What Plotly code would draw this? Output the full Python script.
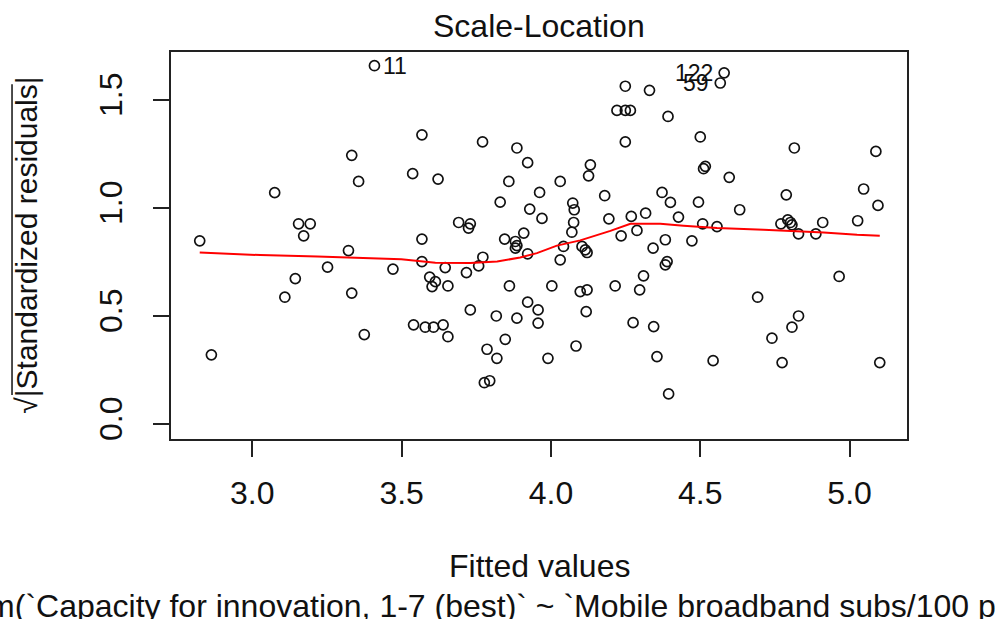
import plotly.graph_objects as go

# Fitted values (x) and sqrt(|standardized residuals|) (y)
fitted = [
    3.409, 3.333, 3.356, 3.537, 3.075, 3.155, 3.194, 3.172, 2.824, 3.322,
    3.252, 3.471, 3.144, 3.109, 3.333, 3.540, 3.375, 2.863,
    3.568, 3.622, 3.771, 3.886, 3.922, 3.859, 4.031, 4.132, 4.126, 4.249,
    4.330, 4.221, 4.249, 4.266, 4.249, 3.962, 3.830, 4.180, 4.372, 3.929,
    3.970, 4.073, 4.078, 4.076, 4.070, 4.194, 4.269, 4.317, 4.288, 4.235,
    3.691, 3.730, 3.724, 3.568, 3.845, 3.909, 3.881, 3.886, 3.881, 3.922,
    4.042, 4.031, 4.104, 4.115, 4.121, 4.342, 3.568, 3.646, 3.717, 3.758,
    3.772, 3.594, 3.613, 3.602, 3.655, 3.861, 4.003, 4.098, 4.121, 4.215,
    4.310, 4.297, 3.730, 3.817, 3.886, 3.922, 3.957, 3.957, 4.118, 4.275,
    4.344, 3.579, 3.607, 3.639, 3.655, 3.847, 3.786, 3.819, 4.084, 3.990,
    4.355, 3.777, 3.795,
    4.580, 4.567, 4.392, 4.500, 4.815, 5.088, 4.517, 4.511, 4.597, 4.400,
    4.494, 4.632, 4.788, 5.047, 5.095, 4.427, 4.508, 4.556, 4.770, 4.793,
    4.802, 4.807, 4.829, 4.887, 4.910, 5.027, 4.383, 4.472, 4.389, 4.383,
    4.394, 4.543, 4.692, 4.965, 4.829, 4.807, 4.740, 4.774, 5.101,
]
sqrt_std_resid = [
    1.657, 1.242, 1.121, 1.157, 1.069, 0.925, 0.925, 0.869, 0.846, 0.801,
    0.724, 0.715, 0.671, 0.585, 0.604, 0.457, 0.412, 0.318,
    1.337, 1.132, 1.304, 1.276, 1.208, 1.121, 1.121, 1.198, 1.147, 1.562,
    1.543, 1.450, 1.450, 1.450, 1.304, 1.070, 1.025, 1.055, 1.070, 0.993,
    0.950, 1.021, 0.990, 0.931, 0.886, 0.948, 0.959, 0.974, 0.894, 0.869,
    0.931, 0.925, 0.905, 0.854, 0.854, 0.882, 0.843, 0.824, 0.812, 0.786,
    0.820, 0.758, 0.820, 0.804, 0.792, 0.812, 0.750, 0.722, 0.699, 0.730,
    0.770, 0.678, 0.657, 0.634, 0.637, 0.637, 0.637, 0.611, 0.619, 0.637,
    0.684, 0.619, 0.526, 0.498, 0.488, 0.562, 0.526, 0.465, 0.518, 0.467,
    0.449, 0.446, 0.446, 0.457, 0.402, 0.390, 0.344, 0.302, 0.359, 0.302,
    0.310, 0.189, 0.198,
    1.624, 1.577, 1.422, 1.327, 1.276, 1.260, 1.191, 1.180, 1.140, 1.024,
    1.025, 0.990, 1.059, 1.086, 1.010, 0.956, 0.925, 0.912, 0.925, 0.943,
    0.931, 0.920, 0.878, 0.878, 0.931, 0.939, 0.851, 0.846, 0.750, 0.735,
    0.137, 0.291, 0.585, 0.681, 0.498, 0.446, 0.395, 0.282, 0.282,
]

# Lowess smoother (red line)
smooth_x = [2.824, 3.027, 3.218, 3.499, 3.613, 3.730, 3.820, 3.897, 3.953,
            4.020, 4.098, 4.199, 4.266, 4.366, 4.444, 4.556, 4.712, 4.801,
            4.913, 5.025, 5.101]
smooth_y = [0.792, 0.780, 0.773, 0.761, 0.745, 0.743, 0.750, 0.769, 0.789,
            0.824, 0.848, 0.892, 0.925, 0.925, 0.916, 0.905, 0.897, 0.892,
            0.885, 0.874, 0.869]

# Identified observations
id_labels = ["11", "122", "59"]
id_x = [3.409, 4.580, 4.567]
id_y = [1.657, 1.624, 1.577]
id_side = ["right", "left", "left"]

x_ticks = [3.0, 3.5, 4.0, 4.5, 5.0]
x_ticktext = ["3.0", "3.5", "4.0", "4.5", "5.0"]
y_ticks = [0.0, 0.5, 1.0, 1.5]
y_ticktext = ["0.0", "0.5", "1.0", "1.5"]

title_text = "Scale-Location"
xlab = "Fitted values"
ylab = "√|Standardized residuals|"
sub_caption = "lm(`Capacity for innovation, 1-7 (best)` ~ `Mobile broadband subs/100 pop`)"

FONT = "Liberation Sans, Arial, sans-serif"
FS = 32
INK = "#111111"

fig = go.Figure()
fig.add_trace(go.Scatter(
    x=fitted, y=sqrt_std_resid, mode="markers",
    marker=dict(symbol="circle-open", size=10, color=INK,
                line=dict(width=1.7, color=INK)),
    hoverinfo="x+y", showlegend=False))
fig.add_trace(go.Scatter(
    x=smooth_x, y=smooth_y, mode="lines",
    line=dict(color="#ff0000", width=2), hoverinfo="skip", showlegend=False))

for lab, xx, yy, side in zip(id_labels, id_x, id_y, id_side):
    fig.add_annotation(x=xx, y=yy, xref="x", yref="y", text=lab, showarrow=False,
                       xanchor="left" if side == "right" else "right",
                       xshift=7 if side == "right" else -9,
                       yanchor="middle", font=dict(family=FONT, size=23, color=INK))

fig.add_annotation(x=0.5, y=1.0677, xref="paper", yref="paper", text=title_text,
                   showarrow=False, xanchor="center", yanchor="middle",
                   font=dict(family=FONT, size=FS, color=INK))
fig.add_annotation(x=0.5, y=-0.3279, xref="paper", yref="paper", text=xlab,
                   showarrow=False, xanchor="center", yanchor="middle",
                   font=dict(family=FONT, size=FS, color=INK))
fig.add_annotation(x=0.4705, y=-0.4325, xref="paper", yref="paper", text=sub_caption,
                   showarrow=False, xanchor="center", yanchor="middle",
                   font=dict(family=FONT, size=FS, color=INK))
fig.add_annotation(x=-0.1963, y=0.5009, xref="paper", yref="paper", text=ylab,
                   showarrow=False, xanchor="center", yanchor="middle", textangle=-90,
                   font=dict(family=FONT, size=30, color=INK))
# overbar of the square-root sign
fig.add_shape(type="line", xref="paper", yref="paper",
              x0=-0.216, x1=-0.216, y0=0.1136, y1=0.9166,
              line=dict(color=INK, width=1.5))

axis_common = dict(showline=True, linecolor="#222222", linewidth=2, mirror=True,
                   ticks="outside", ticklen=16, tickwidth=2, tickcolor="#222222",
                   showgrid=False, zeroline=False, automargin=False,
                   tickfont=dict(family=FONT, size=FS, color=INK))
fig.update_xaxes(range=[2.7278, 5.1922], tickvals=x_ticks, ticktext=x_ticktext,
                 ticklabelstandoff=9, **axis_common)
fig.update_yaxes(range=[-0.0717, 1.7205], tickvals=y_ticks, ticktext=y_ticktext,
                 tickangle=-90, ticklabelstandoff=18, **axis_common)

fig.update_layout(width=995, height=619, margin=dict(l=171, r=88, t=52, b=180),
                  paper_bgcolor="white", plot_bgcolor="white",
                  font=dict(family=FONT, color=INK))
fig.write_html("out.html", config={"displayModeBar": False},
               post_script="document.body.style.margin='0px';document.body.style.overflow='hidden';")
